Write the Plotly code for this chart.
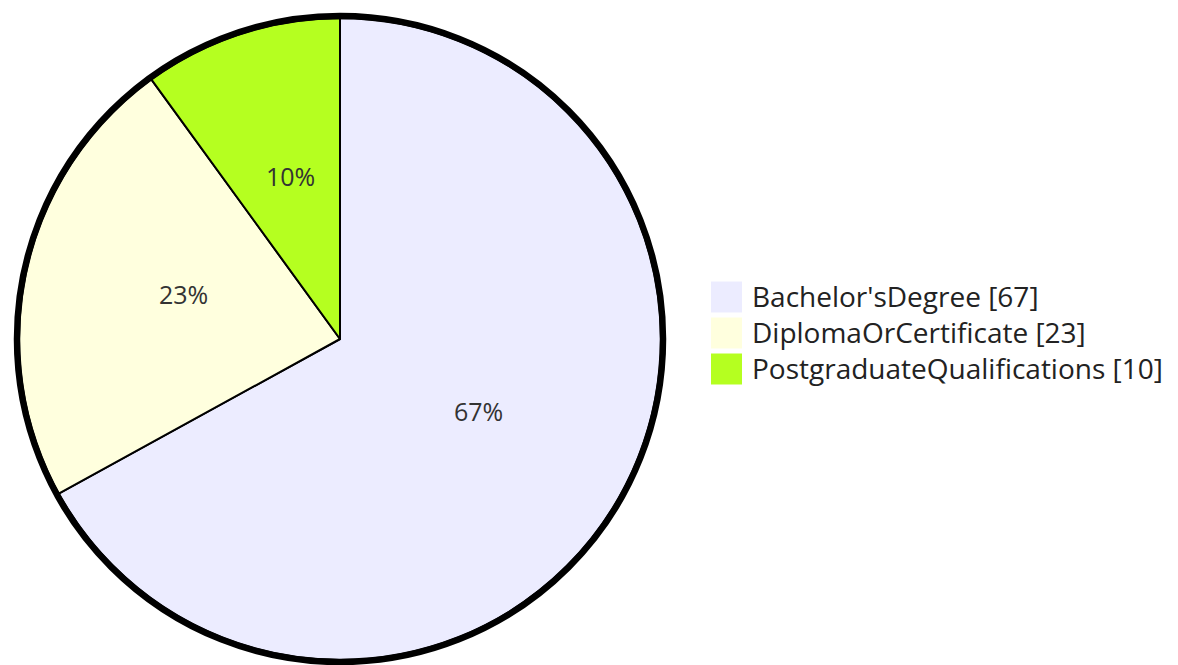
import math
import plotly.graph_objects as go

labels = ["Bachelor'sDegree", "DiplomaOrCertificate", "PostgraduateQualifications"]
values = [67, 23, 10]
colors = ["#ECECFF", "#FFFFDE", "#B5FF20"]

W, H = 1178, 665
cx, cy, r = 340, 339, 321
rb = 323  # outer border radius

fig = go.Figure(go.Pie(
    labels=labels,
    values=values,
    sort=False,
    direction="clockwise",
    rotation=0,
    marker=dict(colors=colors, line=dict(color="black", width=2)),
    textinfo="none",
    domain=dict(x=[(cx - r) / W, (cx + r) / W], y=[1 - (cy + r) / H, 1 - (cy - r) / H]),
    hoverinfo="label+percent",
    showlegend=False,
))

fig.add_shape(type="circle", xref="paper", yref="paper",
              x0=(cx - rb) / W, x1=(cx + rb) / W,
              y0=1 - (cy + rb) / H, y1=1 - (cy - rb) / H,
              line=dict(color="black", width=6.5))

# percentage labels at half radius along slice mid-angle
total = sum(values)
acc = 0
for v in values:
    mid = (acc + v / 2) / total * 2 * math.pi
    acc += v
    px = cx + 0.5 * r * math.sin(mid)
    py = cy - 0.5 * r * math.cos(mid)
    fig.add_annotation(x=px / W, y=1 - py / H, xref="paper", yref="paper",
                       xanchor="center", yanchor="middle", yshift=10,
                       text=f"{round(v / total * 100)}%", showarrow=False,
                       font=dict(family="Open Sans", size=25, color="#333333"))

# legend
sq, gap = 31, 36
ly0 = 297
for i, (l, v, c) in enumerate(zip(labels, values, colors)):
    yc = ly0 + i * gap
    fig.add_shape(type="rect", xref="paper", yref="paper",
                  x0=711 / W, x1=(711 + sq) / W,
                  y0=1 - (yc + sq / 2) / H, y1=1 - (yc - sq / 2) / H,
                  fillcolor=c, line=dict(width=0))
    fig.add_annotation(x=750 / W, y=1 - (yc - 1) / H, xref="paper", yref="paper",
                       xanchor="left", yanchor="middle",
                       text=f"{l} [{v}]", showarrow=False,
                       font=dict(family="Open Sans", size=28, color="#222222"))

fig.update_layout(
    width=W, height=H,
    margin=dict(l=0, r=0, t=0, b=0),
    paper_bgcolor="white",
    plot_bgcolor="white",
    showlegend=False,
)

fig.write_html("out.html")
